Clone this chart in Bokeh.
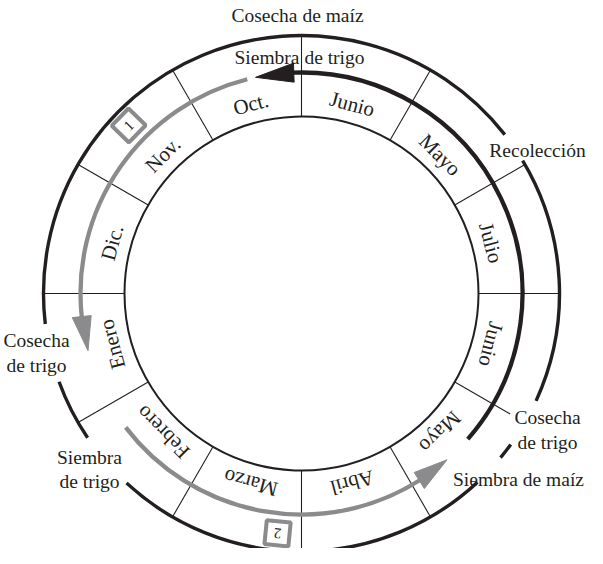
import numpy as np
from bokeh.plotting import figure
from bokeh.models import Range1d
from bokeh.embed import file_html
from bokeh.resources import INLINE
from bokeh.core.properties import value

# ---------------- data ----------------
# month sectors, clockwise from the top (12 o'clock)
months = ["Junio", "Mayo", "Julio", "Junio", "Mayo", "Abril",
          "Marzo", "Febrero", "Enero", "Dic.", "Nov.", "Oct."]

# outer ring pieces (degrees, counter-clockwise from 3 o'clock)
outer_start = [-24.6, 38.0, 200.0, 227.3, 320.5]
outer_end = [31.0, 186.8, 214.0, 313.0, 324.2]

# arrows along the middle ring (degrees)
arrow_start = [-41.2, 104.2, 217.3]
arrow_base = [92.0, 186.0, 302.2]
arrow_tip = [102.0, 195.0, 311.2]
arrow_color = ["#231f20", "#8b8b8d", "#8b8b8d"]

# numbered boxes
box_text = ["1", "2"]
box_angle = [135.8, 264.3]

# event labels (lines of text, centre x, baseline y in page pixels)
label_text = ["Cosecha de maíz", "Siembra de trigo", "Recolección",
              "Cosecha", "de trigo", "Siembra de maíz",
              "Cosecha", "de trigo", "Siembra", "de trigo"]
label_x = [305, 307, 545, 555, 555, 526, 44, 44, 97, 97]
label_y = [23, 65, 158, 425, 450, 487, 348, 373, 465, 489]

# ---------------- layout ----------------
W, H = 587, 548
PAGE_H = 564
CX, CY = 309, PAGE_H - 301
R_IN, R_OUT, R_ARROW, R_LABEL, R_BOX = 177, 258, 221, 196, 241
INK = "#231f20"
GRAY = "#8b8b8d"
FONT = value("Liberation Serif")
rad = np.deg2rad

p = figure(width=W, height=H, x_range=Range1d(8, 8 + W), y_range=Range1d(PAGE_H - 8 - H, PAGE_H - 8),
           output_backend="svg", toolbar_location=None, min_border=0,
           x_axis_location=None, y_axis_location=None, outline_line_color=None)
p.grid.visible = False
p.background_fill_color = "white"


def pol(r, deg):
    a = np.deg2rad(deg)
    return CX + r * np.cos(a), CY + r * np.sin(a)


# sector dividers
div_angles = [90 - 30 * i for i in range(12)]
div_outer = [241 if (a % 360) == 330 else R_OUT for a in div_angles]
x0s, y0s, x1s, y1s = [], [], [], []
for a, ro in zip(div_angles, div_outer):
    x0, y0 = pol(R_IN, a)
    x1, y1 = pol(ro, a)
    x0s.append(float(x0)); y0s.append(float(y0)); x1s.append(float(x1)); y1s.append(float(y1))
p.segment(x0s, y0s, x1s, y1s, line_color=INK, line_width=1.1)

# inner circle
p.arc(x=CX, y=CY, radius=R_IN, start_angle=0.0, end_angle=2 * np.pi - 1e-4,
      direction="anticlock", line_color=INK, line_width=2)

# outer ring pieces
p.arc(x=[CX] * len(outer_start), y=[CY] * len(outer_start), radius=R_OUT,
      start_angle=[float(rad(a)) for a in outer_start], end_angle=[float(rad(a)) for a in outer_end],
      direction="anticlock", line_color=INK, line_width=3.4)

# arrows
for s, b, t, c in zip(arrow_start, arrow_base, arrow_tip, arrow_color):
    p.arc(x=CX, y=CY, radius=R_ARROW, start_angle=float(rad(s)), end_angle=float(rad(b + 0.5)),
          direction="anticlock", line_color=c, line_width=4.3)
    tx, ty = pol(R_ARROW, t)
    ax, ay = pol(R_ARROW + 9.5, b)
    bx, by = pol(R_ARROW - 9.5, b)
    p.patch([float(tx), float(ax), float(bx)], [float(ty), float(ay), float(by)],
            fill_color=c, line_color=c, line_width=1)

# month labels
mid = [90 - 30 * i - 15 for i in range(12)]
mx, my = pol(R_LABEL, np.array(mid))
p.text(x=list(mx), y=list(my), text=months, angle=[float(rad(a - 90)) for a in mid],
       text_align="center", text_baseline="middle", text_font=FONT,
       text_font_size="21px", text_color=INK)

# numbered boxes
bx_, by_ = pol(R_BOX, np.array(box_angle))
rot = [float(rad(a - 90)) for a in box_angle]
p.rect(x=list(bx_), y=list(by_), width=24, height=24, angle=rot,
       fill_color=None, line_color=GRAY, line_width=4)
p.text(x=list(bx_), y=list(by_), text=box_text, angle=rot, text_align="center",
       text_baseline="middle", text_font=FONT, text_font_size="15px", text_color=INK)

# event labels
p.text(x=label_x, y=[PAGE_H - v for v in label_y], text=label_text,
       text_align="center", text_baseline="alphabetic", text_font=FONT,
       text_font_size="19.5px", text_color=INK)

open("out.html", "w").write(file_html(p, INLINE))
